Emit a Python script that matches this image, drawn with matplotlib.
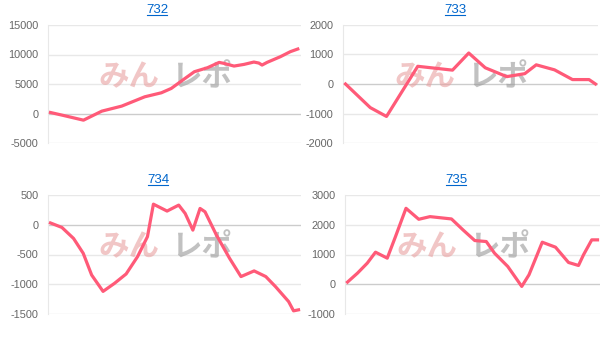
import matplotlib
matplotlib.use("Agg")
import matplotlib.pyplot as plt

plt.rcParams['font.family'] = ['Liberation Sans', 'Noto Sans CJK JP', 'DejaVu Sans']
plt.rcParams['axes.unicode_minus'] = False

titles = ['732', '733', '734', '735']

# x: position along the run (0-100), y: difference
x732 = [0, 4.7, 13.3, 20.7, 28.7, 38, 44.7, 48.7, 53.3, 58, 63.3, 68, 70, 74, 78, 82,
        84, 85.3, 87.3, 92.7, 96.7, 99.7]
y732 = [170, -280, -1130, 400, 1250, 2830, 3510, 4250, 5660, 7080, 7760, 8660, 8490,
        8040, 8320, 8720, 8550, 8210, 8660, 9630, 10480, 10930]

x733 = [0, 9.9, 16.4, 28.9, 42.8, 49.3, 55.9, 64.5, 71.7, 76.3, 83.6, 90.8, 97.4, 100]
y733 = [0, -800, -1100, 600, 470, 1050, 550, 250, 350, 650, 480, 150, 150, 0]

x734 = [0, 4.6, 9.3, 13.2, 16.6, 21.2, 25.8, 30.5, 35.1, 39.1, 41.5, 47.0, 51.7, 54.3,
        57.4, 60.3, 62.3, 66.9, 72.2, 76.8, 82.1, 86.8, 90.7, 96.0, 98.0, 100]
y734 = [30, -45, -230, -480, -845, -1120, -985, -827, -536, -200, 346, 230, 330, 190,
        -90, 274, 218, -173, -564, -871, -776, -871, -1039, -1291, -1447, -1430]

x735 = [0, 4.0, 7.9, 11.2, 15.9, 19.2, 23.4, 28.5, 33.0, 41.6, 46.2, 50.9, 55.5, 58.8,
        64.1, 69.7, 72.6, 77.9, 83.2, 88.4, 92.4, 94.4, 97.7, 100]
y735 = [73, 374, 709, 1078, 877, 1603, 2553, 2184, 2273, 2195, 1827, 1469, 1436, 1045,
        598, -73, 318, 1413, 1246, 732, 631, 989, 1492, 1492]

ranges = [(-5000, 15000, 5000), (-2000, 2000, 1000), (-1500, 500, 500), (-1000, 3000, 1000)]
series = [(x732, y732), (x733, y733), (x734, y734), (x735, y735)]

# axes boxes in pixels: left, right, top, bottom
boxes = [(48, 301, 25, 143), (343, 598, 25, 143), (48, 301, 195, 314), (345, 600, 195, 314)]
# title centres in pixels
title_pos = [(157, 10), (455, 10), (158, 180), (456, 180)]

W, H = 609, 340
fig = plt.figure(figsize=(W / 100, H / 100), dpi=100)

for (l, r, t, b), title, (tx, ty), (xs, ys), (lo, hi, step) in zip(
        boxes, titles, title_pos, series, ranges):
    ax = fig.add_axes([l / W, 1 - b / H, (r - l) / W, (b - t) / H])
    ax.set_xlim(-1, 101)
    ax.set_ylim(lo, hi)
    ticks = list(range(lo, hi + 1, step))
    ax.set_yticks(ticks)
    ax.set_xticks([])
    for tv in ticks:
        ax.axhline(tv, color='#cccccc' if tv == 0 else '#e8e8e8', lw=1, zorder=0)
    for s in ['top', 'right', 'bottom']:
        ax.spines[s].set_visible(False)
    ax.spines['left'].set_color('#e8e8e8')
    ax.tick_params(axis='y', length=0, pad=7, labelsize=7.8, labelcolor='#666666')

    # watermark
    ax.text(0.32, 0.56, 'みん', transform=ax.transAxes, ha='center', va='center',
            fontsize=22, fontweight='bold', color='#e8a0a0', alpha=0.6,
            family=['Noto Sans CJK JP'], zorder=1)
    ax.text(0.605, 0.56, 'レポ', transform=ax.transAxes, ha='center', va='center',
            fontsize=22, fontweight='bold', color='#999999', alpha=0.6,
            family=['Noto Sans CJK JP'], zorder=1)

    ax.plot(xs, ys, color='#ff5a78', lw=2.3, solid_joinstyle='round', zorder=3)

    fig.text(tx / W, 1 - ty / H, title, ha='center', va='center',
             fontsize=9.5, color='#0066cc')
    fig.add_artist(plt.Line2D([(tx - 10) / W, (tx + 10) / W], [1 - (ty + 5) / H] * 2,
                              color='#0066cc', lw=0.8))

fig.savefig('out.png', dpi=100)
